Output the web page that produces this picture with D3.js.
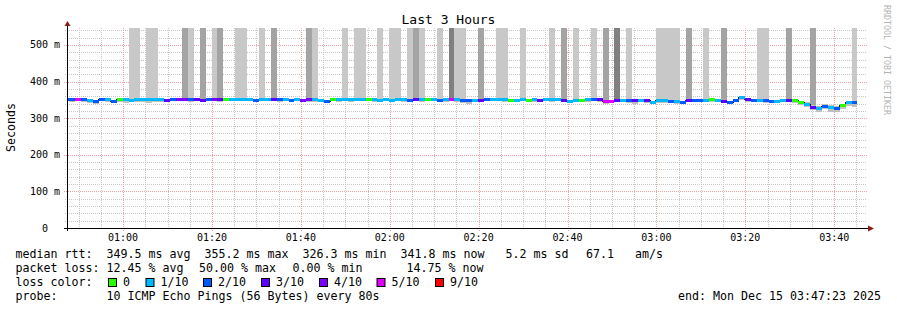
<!DOCTYPE html>
<html lang="en">
<head>
<meta charset="UTF-8">
<title>Last 3 Hours</title>
<script src="https://d3js.org/d3.v7.min.js"></script>
<style>
  body { margin: 0; background: #fff; }
  text { font-family: 'DejaVu Sans Mono', monospace; fill: #000; white-space: pre; }
</style>
</head>
<body>
<script>
// time window and 80s steps (first step starts before the window)
const windowStart = new Date(2025, 11, 15, 0, 47, 23);
const windowEnd = new Date(2025, 11, 15, 3, 47, 23);
const firstStep = new Date(2025, 11, 15, 0, 46, 34);
const stepSec = 80;

// median rtt per step (ms)
const median = [350, 350, 352, 350, 347, 345, 351, 350, 346, 351, 350, 349, 350, 350, 351, 350, 350, 348, 350, 352,
  351, 350, 350, 349, 350, 351, 350, 352, 352, 352, 351, 351, 349, 351, 350, 350, 352, 351, 349, 350,
  349, 351, 350, 349, 346, 352, 351, 351, 350, 351, 350, 351, 350, 349, 350, 349, 350, 350, 349, 351,
  351, 351, 350, 349, 351, 352, 350, 347, 347, 349, 349, 352, 351, 351, 350, 348, 349, 350, 349, 350,
  349, 350, 351, 350, 349, 346, 347, 349, 350, 352, 350, 346, 345, 348, 349, 347, 347, 348, 347, 344,
  347, 347, 346, 346, 344, 349, 349, 348, 349, 350, 349, 345, 344, 348, 355.2, 350, 348, 348, 347, 346,
  346, 347, 348, 347, 342, 338, 330, 327, 333, 330, 326.3, 335, 344, 341.8];
// lost pings out of 10 per step
const loss = [2, 2, 5, 2, 1, 2, 2, 1, 2, 0, 1, 1, 1, 1, 1, 1, 1, 3, 2, 4,
  4, 2, 3, 3, 2, 4, 3, 0, 1, 1, 1, 1, 2, 1, 1, 3, 2, 1, 2, 1,
  4, 4, 1, 1, 2, 0, 1, 1, 1, 1, 1, 0, 1, 1, 1, 1, 1, 1, 2, 3,
  1, 0, 1, 2, 1, 5, 1, 2, 2, 1, 3, 2, 1, 1, 1, 0, 1, 1, 0, 1,
  3, 1, 1, 1, 3, 1, 1, 0, 1, 2, 3, 5, 5, 3, 1, 2, 3, 1, 3, 1,
  1, 1, 2, 1, 2, 3, 2, 2, 1, 0, 1, 3, 2, 2, 1, 3, 2, 1, 2, 2,
  1, 1, 3, 0, 0, 1, 3, 1, 2, 1, 2, 0, 1, 2];
// fastest / slowest ping per step (ms)
const pingMin = [346, 345, 347, 343, 341, 340, 346, 345, 343, 345, 341, 344, 343, 345, 342, 344, 345, 345, 346, 347,
  346, 344, 346, 343, 346, 346, 345, 348, 347, 346, 348, 347, 345, 348, 346, 346, 344, 348, 346, 346,
  345, 344, 345, 344, 343, 347, 344, 346, 345, 347, 346, 346, 344, 345, 346, 344, 346, 345, 344, 346,
  345, 346, 347, 344, 345, 347, 345, 342, 338, 344, 345, 346, 346, 347, 344, 344, 345, 346, 344, 345,
  344, 346, 345, 346, 344, 342, 343, 345, 345, 346, 345, 340, 341, 343, 344, 342, 340, 344, 341, 340,
  342, 341, 341, 339, 338, 344, 345, 344, 343, 345, 344, 341, 340, 344, 350, 345, 343, 343, 342, 341,
  342, 343, 343, 342, 336, 331, 322, 318, 324, 316, 318, 326, 334, 331];
const pingMax = [352, 352, 354, 352, 350, 348, 353, 352, 349, 353, 352, 351, 352, 352, 353, 352, 352, 350, 352, 354,
  353, 352, 352, 351, 352, 353, 352, 354, 354, 354, 353, 353, 351, 353, 352, 352, 354, 353, 351, 352,
  351, 353, 352, 351, 349, 354, 353, 353, 352, 353, 352, 353, 352, 351, 352, 351, 352, 352, 351, 353,
  353, 353, 352, 351, 353, 354, 352, 349, 349, 351, 351, 354, 353, 353, 352, 350, 351, 352, 351, 352,
  351, 352, 353, 352, 351, 348, 349, 351, 352, 354, 352, 349, 348, 351, 351, 349, 349, 351, 349, 347,
  349, 349, 349, 348, 347, 351, 351, 350, 352, 352, 351, 348, 347, 350, 357, 352, 350, 351, 349, 349,
  350, 351, 350, 350, 347, 343, 336, 333, 338, 336, 333, 339, 348, 347];
// steps where the smoke reaches the top: [step index, shade 1..3]
const smokeTops = [[11, 1], [12, 1], [14, 1], [15, 1], [20, 2], [21, 1], [23, 2], [25, 1], [26, 2], [29, 1], [30, 1],
  [33, 1], [35, 2], [41, 2], [42, 1], [47, 1], [49, 1], [50, 1], [53, 1], [55, 1], [56, 1], [58, 1], [59, 2],
  [60, 1], [63, 1], [65, 3], [66, 1], [67, 1], [70, 2], [73, 1], [74, 1], [77, 1], [82, 1], [84, 2], [86, 1],
  [89, 1], [91, 2], [93, 3], [95, 1], [100, 1], [101, 1], [102, 1], [103, 1], [105, 2], [108, 1], [111, 2],
  [117, 1], [118, 1], [122, 2], [126, 2], [133, 1]];

const lossColors = ['#26ff00', '#00b8ff', '#0059ff', '#5e00ff', '#7e00ff', '#dd00ff', '#ff0000'];
const lossLabels = ['0', '1/10', '2/10', '3/10', '4/10', '5/10', '9/10'];
const shadeColors = ['#c0c0c0', '#c8c8c8', '#a4a4a4', '#808080'];
const yTicks = [0, 100, 200, 300, 400, 500];
const yMax = 546.4;

const legendRtt = ['349.5 ms avg  355.2 ms max  326.3 ms min  341.8 ms now   5.2 ms sd', '67.1   am/s'];
const legendLoss = ['12.45 % avg', '50.00 % max', '0.00 % min', '14.75 % now'];
const probeText = '10 ICMP Echo Pings (56 Bytes) every 80s';
const endText = 'end: Mon Dec 15 03:47:23 2025';

const width = 897, height = 310;
const pLeft = 67, pRight = 867, pTop = 28, pBottom = 228;

const svg = d3.select('body').append('svg').attr('width', width).attr('height', height);
svg.append('rect').attr('width', width).attr('height', height).attr('fill', '#fff');

const x = d3.scaleTime().domain([windowStart, windowEnd]).range([pLeft, pRight]);
const y = d3.scaleLinear().domain([0, yMax]).range([pBottom, pTop]);

const stepTime = i => new Date(firstStep.getTime() + i * stepSec * 1000);
const steps = median.map((m, i) => ({
  t0: stepTime(i), t1: stepTime(i + 1), med: m, loss: loss[i], lo: pingMin[i], hi: pingMax[i]
}));

// grid
const grid = svg.append('g');
const minorX = d3.timeMinute.every(5).range(windowStart, windowEnd);
const majorX = d3.timeMinute.every(20).range(windowStart, windowEnd);
const isMajor = t => t.getMinutes() % 20 === 0;
grid.selectAll('.vminor').data(minorX.filter(t => !isMajor(t))).enter().append('line')
  .attr('x1', d => Math.round(x(d)) + 0.5).attr('x2', d => Math.round(x(d)) + 0.5)
  .attr('y1', pTop).attr('y2', pBottom + 2)
  .attr('stroke', '#c8c8c8').attr('stroke-dasharray', '1,1');
const minorY = d3.range(20, yMax, 20).filter(v => v % 100 !== 0);
grid.selectAll('.hminor').data(minorY).enter().append('line')
  .attr('x1', pLeft - 2).attr('x2', pRight)
  .attr('y1', d => Math.round(y(d)) + 0.5).attr('y2', d => Math.round(y(d)) + 0.5)
  .attr('stroke', '#c8c8c8').attr('stroke-dasharray', '1,1');
grid.selectAll('.vmajor').data(majorX).enter().append('line')
  .attr('x1', d => Math.round(x(d)) + 0.5).attr('x2', d => Math.round(x(d)) + 0.5)
  .attr('y1', pTop).attr('y2', pBottom + 3)
  .attr('stroke', '#f0a0a0').attr('stroke-dasharray', '1,1');
grid.selectAll('.hmajor').data(yTicks.filter(v => v > 0)).enter().append('line')
  .attr('x1', pLeft - 3).attr('x2', pRight)
  .attr('y1', d => Math.round(y(d)) + 0.5).attr('y2', d => Math.round(y(d)) + 0.5)
  .attr('stroke', '#f0a0a0').attr('stroke-dasharray', '1,1');

// data
svg.append('clipPath').attr('id', 'plot').append('rect')
  .attr('x', pLeft).attr('y', pTop).attr('width', pRight - pLeft).attr('height', pBottom - pTop);
const g = svg.append('g').attr('clip-path', 'url(#plot)').attr('shape-rendering', 'crispEdges');

g.selectAll('.top').data(smokeTops).enter().append('rect')
  .attr('x', d => x(steps[d[0]].t0)).attr('width', d => x(steps[d[0]].t1) - x(steps[d[0]].t0))
  .attr('y', pTop).attr('height', d => y(steps[d[0]].lo) - pTop)
  .attr('fill', d => shadeColors[d[1]]);

g.selectAll('.smoke').data(steps).enter().append('rect')
  .attr('x', d => x(d.t0)).attr('width', d => x(d.t1) - x(d.t0))
  .attr('y', d => y(d.hi)).attr('height', d => y(d.lo) - y(d.hi))
  .attr('fill', shadeColors[0]);

const stepLine = d3.line().curve(d3.curveStepAfter).x(d => x(d.t)).y(d => y(d.v));
const stepPts = steps.map(d => ({ t: d.t0, v: d.med }));
stepPts.push({ t: steps[steps.length - 1].t1, v: median[median.length - 1] });
g.append('path').attr('d', stepLine(stepPts)).attr('fill', 'none')
  .attr('stroke', '#202020').attr('stroke-width', 1);

g.selectAll('.med').data(steps).enter().append('line')
  .attr('x1', d => x(d.t0)).attr('x2', d => x(d.t1))
  .attr('y1', d => y(d.med)).attr('y2', d => y(d.med))
  .attr('stroke', d => lossColors[Math.min(d.loss, 6)]).attr('stroke-width', 3);

// axes
const axisColor = '#000';
svg.append('line').attr('x1', pLeft - 3).attr('x2', pRight + 3).attr('y1', pBottom + 0.5).attr('y2', pBottom + 0.5)
  .attr('stroke', axisColor);
svg.append('line').attr('x1', pLeft + 0.5).attr('x2', pLeft + 0.5).attr('y1', pBottom + 3).attr('y2', pTop - 4)
  .attr('stroke', axisColor);
svg.append('path').attr('d', `M${pRight + 1},${pBottom - 2.5}L${pRight + 7},${pBottom + 0.5}L${pRight + 1},${pBottom + 3.5}Z`)
  .attr('fill', '#8b1a1a');
svg.append('path').attr('d', `M${pLeft - 2.5},${pTop - 2}L${pLeft + 0.5},${pTop - 7}L${pLeft + 3.5},${pTop - 2}Z`)
  .attr('fill', '#8b1a1a');

svg.selectAll('.xlab').data(majorX).enter().append('text')
  .attr('x', d => x(d)).attr('y', 241).attr('text-anchor', 'middle')
  .attr('font-size', 10).text(d3.timeFormat('%H:%M'));
svg.selectAll('.ylab').data(yTicks).enter().append('text')
  .attr('x', d => d === 0 ? 48 : 60).attr('y', d => y(d) + 3.5).attr('text-anchor', 'end')
  .attr('font-size', 10).text(d => d === 0 ? '0' : d + ' m');

svg.append('text').attr('transform', 'translate(15,127.5) rotate(-90)').attr('text-anchor', 'middle')
  .attr('font-size', 11.6).text('Seconds');
svg.append('text').attr('x', width / 2).attr('y', 24).attr('text-anchor', 'middle')
  .attr('font-size', 13).text('Last 3 Hours');
svg.append('text').attr('transform', 'translate(884,5) rotate(90)')
  .attr('font-size', 8.3).style('fill', '#b4b4b4').text('RRDTOOL / TOBI OETIKER');

// legend
const fs = 11.63;
const leg = svg.append('g').attr('font-size', fs);
leg.append('text').attr('x', 15.5).attr('y', 258).text('median rtt:');
leg.append('text').attr('x', 106.5).attr('y', 258).text(legendRtt[0]);
leg.append('text').attr('x', 586).attr('y', 258).text(legendRtt[1]);
leg.append('text').attr('x', 15.5).attr('y', 272).text('packet loss:');
const lossX = [106.5, 199, 292.5, 406.5];
leg.selectAll('.pl').data(legendLoss).enter().append('text')
  .attr('x', (d, i) => lossX[i]).attr('y', 272).text(d => d);
leg.append('text').attr('x', 15.5).attr('y', 286).text('loss color:');
const swX = [108, 145.5, 203, 261, 319, 376.5, 435];
const sw = leg.selectAll('.sw').data(lossLabels).enter().append('g');
sw.append('rect').attr('x', (d, i) => swX[i] + 0.5).attr('y', 278.5).attr('width', 8).attr('height', 8)
  .attr('fill', (d, i) => lossColors[i]).attr('stroke', '#000');
sw.append('text').attr('x', (d, i) => swX[i] + 15).attr('y', 286).text(d => d);
leg.append('text').attr('x', 15.5).attr('y', 299.5).text('probe:');
leg.append('text').attr('x', 106.5).attr('y', 299.5).text(probeText);
leg.append('text').attr('x', 881).attr('y', 299.5).attr('text-anchor', 'end').text(endText);
</script>
</body>
</html>
